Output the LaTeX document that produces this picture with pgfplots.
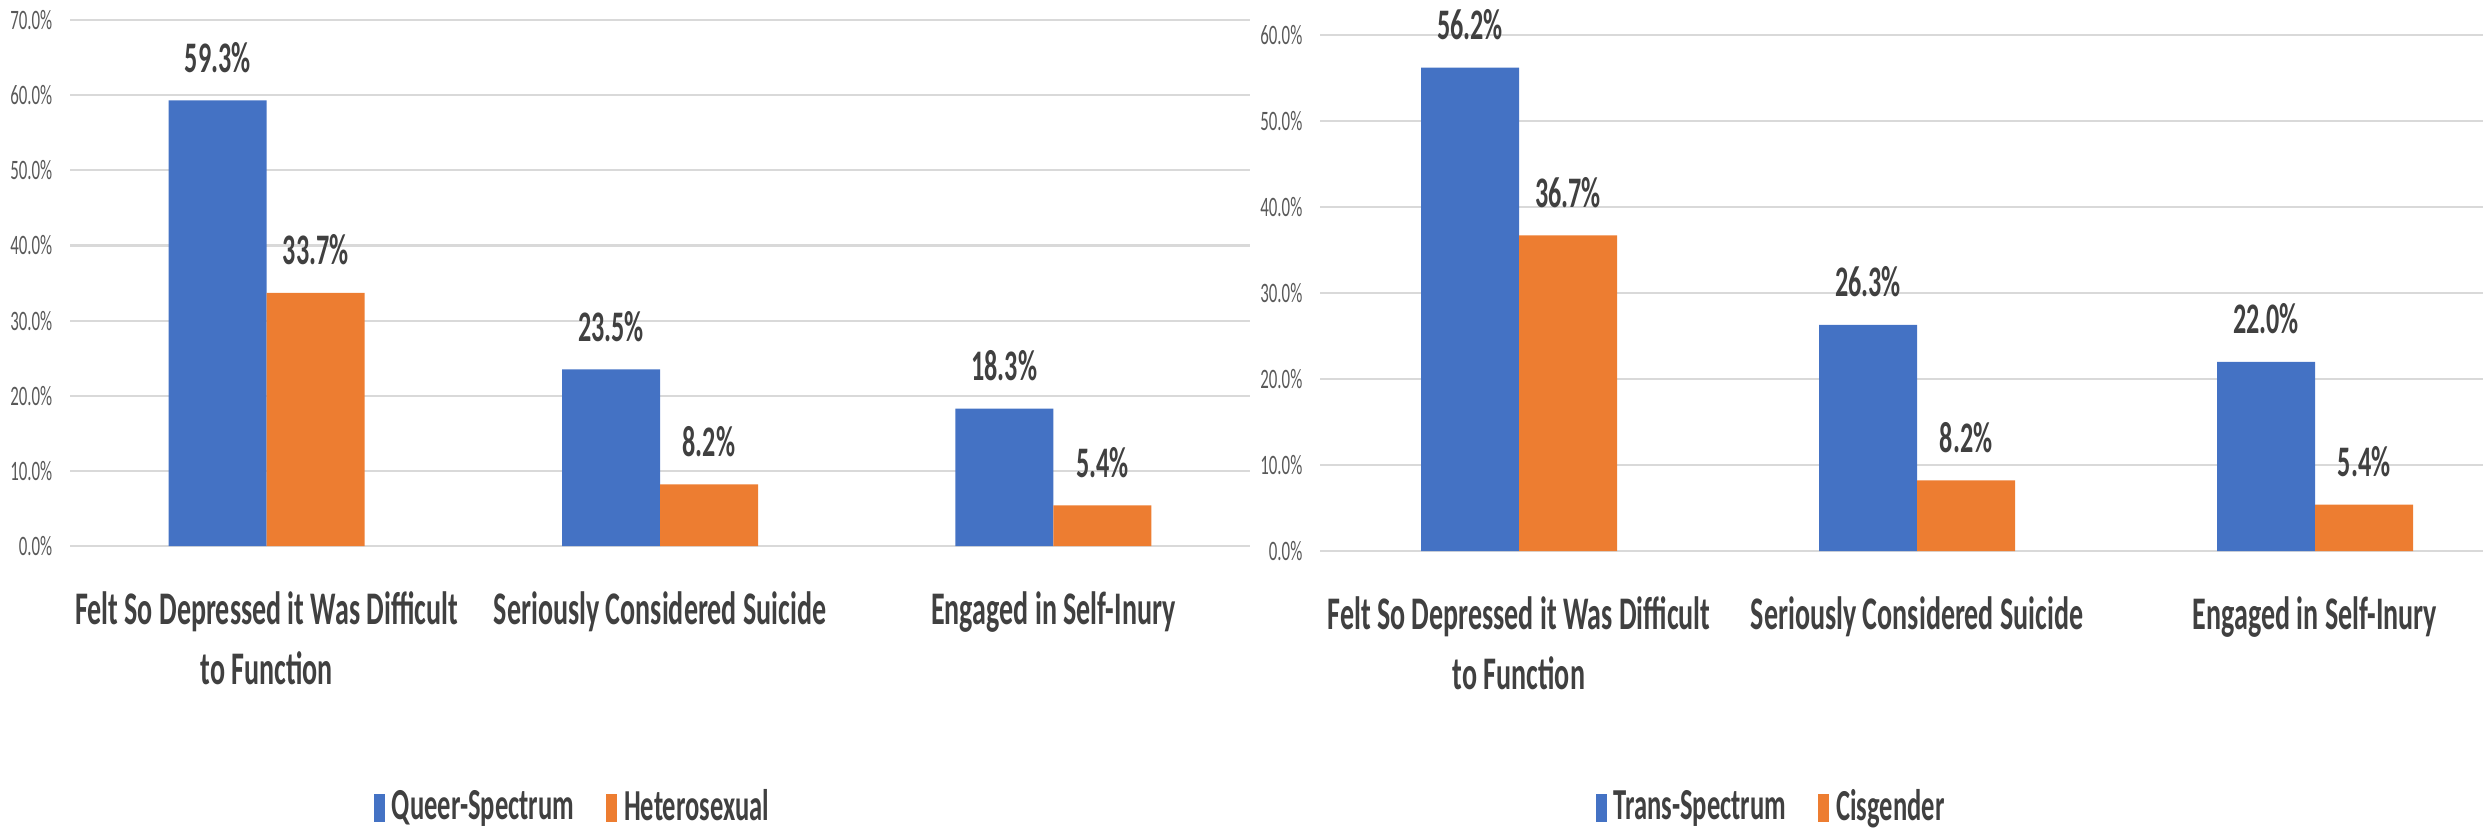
\documentclass[border=0pt]{standalone}
\usepackage{fontspec}
\setmainfont{Carlito}[FakeStretch=0.6]
\usepackage{pgfplots}
\pgfplotsset{compat=1.18}
\definecolor{barblue}{HTML}{4472C4}
\definecolor{barorange}{HTML}{ED7D31}
\definecolor{labelgray}{HTML}{404040}
\definecolor{tickgray}{HTML}{595959}
\definecolor{gridgray}{HTML}{D9D9D9}

% shared look of both Excel-style bar charts
\pgfplotsset{
  excelbars/.style={
    ybar=0pt, bar width=9.8mm,
    scale only axis, clip=false,
    enlargelimits=false,
    xmin=-0.5, ymin=0,
    xtick={0,1,2},
    xticklabels={{Felt So Depressed it Was Difficult\\to Function},{Seriously Considered Suicide},{Engaged in Self-Inury}},
    xticklabel style={font=\fontsize{13.3}{17}\selectfont\bfseries, text=labelgray, align=center, anchor=north, inner sep=0pt, yshift=-4.5mm},
    ytick distance=10,
    yticklabel={\pgfmathprintnumber[fixed,fixed zerofill,precision=1]{\tick}\%},
    yticklabel style={font=\fontsize{8}{9}\selectfont, text=tickgray, inner sep=0pt, xshift=-1.7mm},
    /pgf/number format/assume math mode=true,
    ymajorgrids, major grid style={gridgray, line width=0.6pt},
    axis line style={draw=none},
    major tick length=0pt,
    nodes near coords={\pgfmathprintnumber[fixed,fixed zerofill,precision=1]{\pgfplotspointmeta}\%},
    nodes near coords style={font=\fontsize{12.4}{14}\selectfont\bfseries, text=labelgray, inner sep=0pt, anchor=south, yshift=2.7mm},
    legend columns=-1,
    legend style={draw=none, fill=none, font=\fontsize{12.6}{14}\selectfont\bfseries, text=labelgray, anchor=center,
      /tikz/every even column/.append style={column sep=2.5mm}},
    legend image code/.code={\fill[##1] (0mm,-1.4mm) rectangle (1.1mm,1.4mm);},
  }
}

\begin{document}
\begin{tikzpicture}
\begin{axis}[excelbars, at={(7mm,29mm)}, anchor=south west,
    width=118mm, height=52.6mm, xmax=2.5, ymax=70,
    legend style={at={(0.428,-0.498)}}]
  % Queer-Spectrum
  \addplot[fill=barblue, draw=none] coordinates {(0,59.3) (1,23.5) (2,18.3)};
  % Heterosexual
  \addplot[fill=barorange, draw=none] coordinates {(0,33.7) (1,8.2) (2,5.4)};
  \legend{Queer-Spectrum, Heterosexual}
\end{axis}
\begin{axis}[excelbars, at={(132mm,28.5mm)}, anchor=south west,
    width=116.3mm, height=51.6mm, xmax=2.422, ymax=60,
    legend style={at={(0.39,-0.498)}}]
  % Trans-Spectrum
  \addplot[fill=barblue, draw=none] coordinates {(0,56.2) (1,26.3) (2,22.0)};
  % Cisgender
  \addplot[fill=barorange, draw=none] coordinates {(0,36.7) (1,8.2) (2,5.4)};
  \legend{Trans-Spectrum, Cisgender}
\end{axis}
\pgfresetboundingbox
\useasboundingbox (0,0) rectangle (248.3mm,83.6mm);
\end{tikzpicture}
\end{document}
